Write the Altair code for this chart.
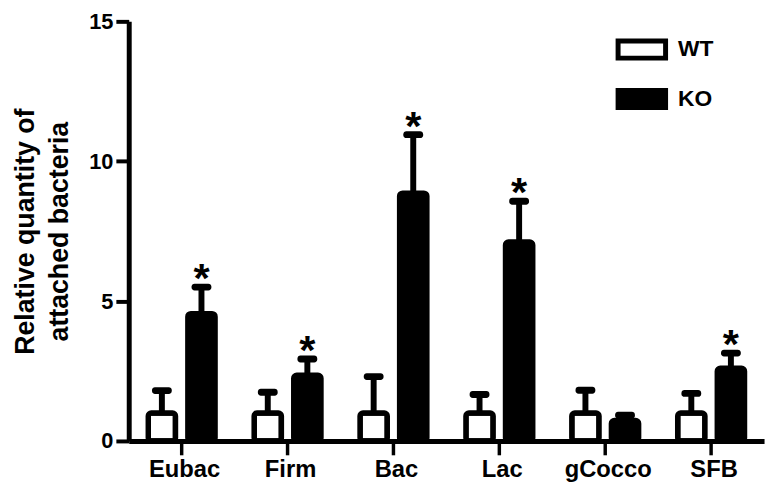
import altair as alt
import pandas as pd

categories = ["Eubac", "Firm", "Bac", "Lac", "gCocco", "SFB"]
groups = ["WT", "KO"]
wt_mean = [1.0, 1.0, 1.0, 1.0, 1.0, 1.0]
wt_upper = [1.80, 1.74, 2.30, 1.66, 1.81, 1.70]
ko_mean = [4.55, 2.35, 8.86, 7.11, 0.73, 2.60]
ko_upper = [5.50, 2.93, 10.95, 8.57, 0.92, 3.14]
ko_sig = ["*", "*", "*", "*", "", "*"]
y_ticks = [0, 5, 10, 15]

rows = []
for i, c in enumerate(categories):
    rows.append({"category": c, "group": "WT", "mean": wt_mean[i], "upper": wt_upper[i], "star": ""})
    rows.append({"category": c, "group": "KO", "mean": ko_mean[i], "upper": ko_upper[i], "star": ko_sig[i]})
df = pd.DataFrame(rows)

FONT = "Liberation Sans"

base = alt.Chart(df).encode(
    x=alt.X("category:N", sort=categories,
            scale=alt.Scale(paddingInner=0, paddingOuter=0),
            axis=alt.Axis(title=None, labelAngle=0, labelFont=FONT, labelFontSize=24,
                          labelFontWeight="bold", labelColor="black", labelPadding=3,
                          labelOffset=3,
                          tickSize=14, tickWidth=3.5, tickColor="black",
                          domainColor="black", domainWidth=5, grid=False)),
    xOffset=alt.XOffset("group:N", sort=groups,
                        scale=alt.Scale(domain=groups, paddingInner=0.2, paddingOuter=0.4375)),
)

stems = base.mark_rule(strokeWidth=6, color="black").encode(
    y=alt.Y("mean:Q"), y2="upper:Q")

bars = base.mark_bar(width=27.5, stroke="black", strokeWidth=5.5, cornerRadius=3).encode(
    y=alt.Y("mean:Q", scale=alt.Scale(domain=[0, 15], nice=False),
            axis=alt.Axis(values=y_ticks, title=["Relative quantity of", "attached bacteria"],
                          titleFont=FONT, titleFontSize=27, titleFontWeight="bold",
                          titleColor="black", titleLineHeight=35, titlePadding=15,
                          labelFont=FONT, labelFontSize=22, labelFontWeight="bold",
                          labelColor="black", labelPadding=3,
                          tickSize=13, tickWidth=4, tickColor="black",
                          domainColor="black", domainWidth=5, grid=False)),
    fill=alt.Fill("group:N", sort=groups,
                  scale=alt.Scale(domain=groups, range=["white", "black"]),
                  legend=alt.Legend(title=None, orient="none", legendX=492, legendY=2,
                                    symbolType="M-1,-0.36L1,-0.36L1,0.36L-1,0.36Z",
                                    symbolSize=2304, symbolStrokeWidth=5,
                                    symbolStrokeColor="black", symbolFillColor="white",
                                    labelFont=FONT, labelFontSize=23, labelFontWeight="bold",
                                    labelColor="black", labelOffset=10, rowPadding=4,
                                    padding=0)),
)

caps = base.mark_tick(size=20, thickness=7, cornerRadius=3, color="black", opacity=1).encode(
    y="upper:Q")

stars = base.mark_text(font=FONT, fontSize=42, fontWeight="bold", color="black",
                       baseline="alphabetic", dy=5).encode(
    y="upper:Q", text="star:N")

chart = alt.layer(stems, bars, caps, stars).properties(
    width=642, height=424,
    autosize=alt.AutoSizeParams(type="none"),
    padding={"left": 122, "top": 11, "right": 5, "bottom": 40},
).configure_view(stroke=None)

chart.save("out.html", embed_options={"renderer": "svg", "actions": False})
